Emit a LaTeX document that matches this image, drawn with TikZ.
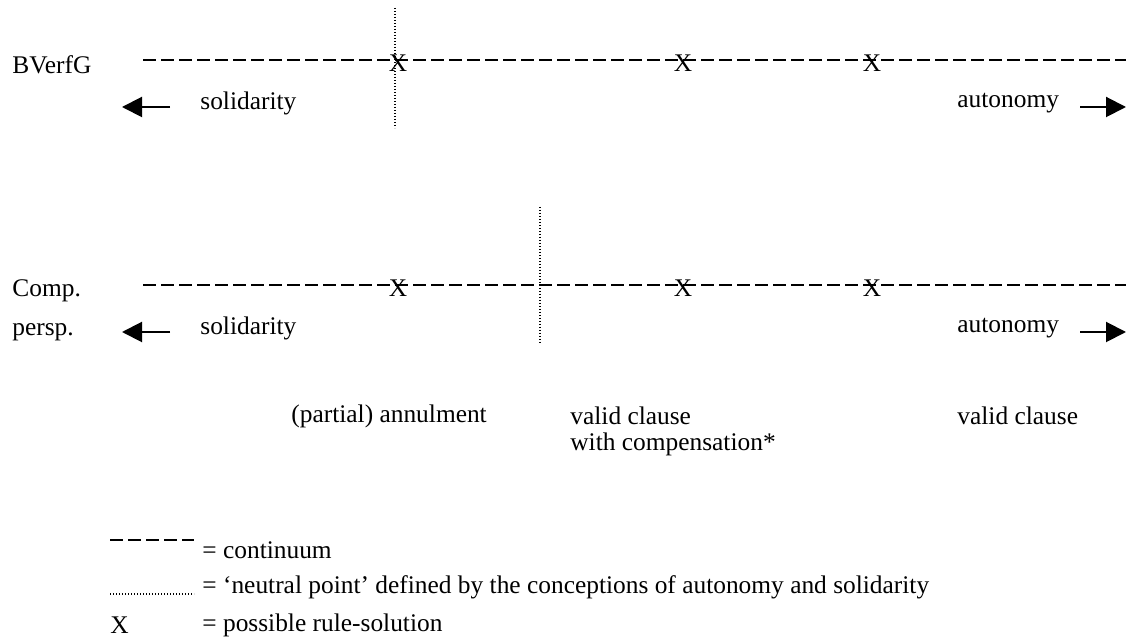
\documentclass[tikz,border=0pt]{standalone}
\usepackage{fontspec}
\setmainfont{Liberation Serif}
\usetikzlibrary{arrows.meta}
\begin{document}
\begin{tikzpicture}[x=.5pt,y=-.5pt,font=\fontsize{12.7}{14}\selectfont,
  continuum/.style={line width=1pt,dash pattern=on 6.5pt off 2.5pt},
  neutral/.style={line width=.6pt,dash pattern=on .6pt off .9pt},
  pull/.style={line width=1pt,-{Triangle[length=10pt,width=10pt]}},
  txt/.style={inner sep=0pt,anchor=west}]
\useasboundingbox (0,0) rectangle (1126,641);
% one spectrum: #1 name, #2 height of the line, #3 neutral point, #4/#5 ends of the dots
\newcommand{\Spectrum}[5]{
\draw[continuum](143,#2)--(1126,#2);
\draw[neutral](#3,#4)--(#3,#5);
\foreach \px in {398,683,872}
  \node[inner sep=0pt] (#1-x\px) at (\px,#2+3) {X};
\node[txt] (#1-sol) at (200,#2+43) {solidarity};
\node[txt] (#1-aut) at (957,#2+43) {autonomy};
\coordinate (#1-l1) at (170,#2+47);
\coordinate (#1-l2) at (122,#2+47);
\coordinate (#1-r1) at (1080,#2+47);
\coordinate (#1-r2) at (1126,#2+47);
\draw[pull](#1-l1)--(#1-l2);
\draw[pull](#1-r1)--(#1-r2);}
\Spectrum{bv}{60}{395}{8}{128}
\node[txt] (bv-name) at (12,65) {BVerfG};
\Spectrum{cp}{285}{540}{207}{344}
\node[txt] (cp-name) at (12,291) {Comp.};
\node[txt] (cp-name2) at (12,332) {persp.};
% solutions
\node[txt] (annul) at (291,416) {(partial) annulment};
\node[txt] (valid) at (570,416) {valid clause};
\node[txt] (comp) at (570,444) {with compensation*};
\node[txt] (valid2) at (957,416) {valid clause};
% legend
\coordinate (k1) at (110,540);
\coordinate (k2) at (194,540);
\draw[continuum](k1)--(k2);
\node[txt] (key-c) at (202,550) {= continuum};
\coordinate (k3) at (110,594);
\coordinate (k4) at (194,594);
\draw[neutral](k3)--(k4);
\node[txt] (key-n) at (202,587) {= `neutral point' defined by the conceptions of autonomy and solidarity};
\node[txt] (key-x) at (110,625) {X};
\node[txt] (key-s) at (202,625) {= possible rule-solution};
\end{tikzpicture}
\end{document}
